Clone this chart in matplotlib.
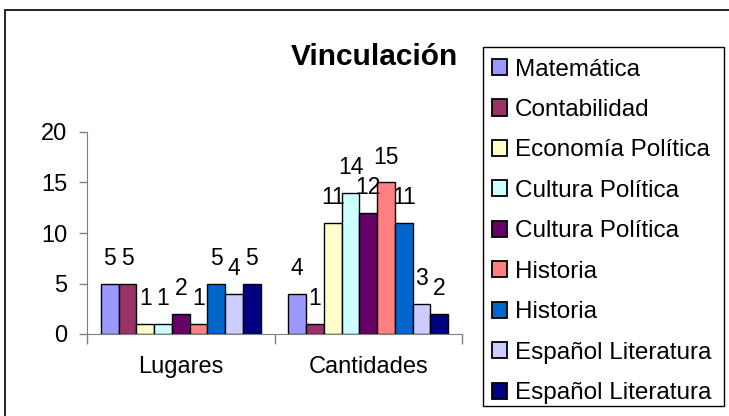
import matplotlib
matplotlib.use("Agg")
import matplotlib.pyplot as plt
import numpy as np
from matplotlib.patches import Rectangle, Patch

plt.rcParams['font.family'] = ['Liberation Sans', 'DejaVu Sans']

categories = ["Lugares", "Cantidades"]
series_names = ["Matemática", "Contabilidad", "Economía Política", "Cultura Política",
                "Cultura Política", "Historia", "Historia", "Español Literatura",
                "Español Literatura"]
values = [
    [5, 4],
    [5, 1],
    [1, 11],
    [1, 14],
    [2, 12],
    [1, 15],
    [5, 11],
    [4, 3],
    [5, 2],
]
colors = ["#9999FF", "#993366", "#FFFFCC", "#CCFFFF", "#660066", "#FF8080",
          "#0066CC", "#CCCCFF", "#000080"]
yticks = [0, 5, 10, 15, 20]

W, H = 729, 416
fig = plt.figure(figsize=(W / 100, H / 100), dpi=100)
fig.patch.set_facecolor("white")

# outer chart border
fig.patches.append(Rectangle((5 / W, -0.1), 1.2, (H - 10) / H + 0.1, transform=fig.transFigure,
                             fill=False, edgecolor="black", linewidth=1.2))
# legend frame
fig.patches.append(Rectangle((483 / W, 1 - 406 / H), (724 - 483) / W, (406 - 47) / H,
                             transform=fig.transFigure, fill=False,
                             edgecolor="black", linewidth=1.0))

ax = fig.add_axes([87 / W, (H - 334) / H, (462 - 87) / W, (334 - 132) / H])
n = len(series_names)
group_w = 0.853
bw = group_w / n
x = np.arange(len(categories)) + 0.5
for i, (name, vals, c) in enumerate(zip(series_names, values, colors)):
    pos = x - group_w / 2 + bw * (i + 0.5)
    ax.bar(pos, vals, width=bw, color=c, edgecolor="black", linewidth=1.0, label=name)
    for xp, v in zip(pos, vals):
        ax.annotate(str(v), (xp, v), xytext=(0, 13.5), textcoords="offset points",
                    ha="center", va="baseline", fontsize=16.5)

ax.set_xlim(0, 2)
ax.set_ylim(0, 20)
ax.set_yticks(yticks)
ax.tick_params(axis="y", labelsize=17, length=6, width=1, pad=8)
ax.set_xticks([0, 1, 2])
ax.set_xticklabels(["", "", ""])
ax.set_xticks(x, minor=True)
ax.set_xticklabels(categories, minor=True)
ax.tick_params(axis="x", which="major", length=7, width=1, direction="out")
ax.tick_params(axis="x", which="minor", length=0, labelsize=17, pad=16)
for s in ["top", "right"]:
    ax.spines[s].set_visible(False)
ax.spines["left"].set_color("#808080")
ax.spines["bottom"].set_color("#808080")
ax.tick_params(colors="#808080", labelcolor="black", which="both")
ax.set_facecolor("white")

fig.text(374 / W, 1 - 57 / H, "Vinculación", ha="center", va="center",
         fontsize=21.5, fontweight="bold")

handles = [Patch(facecolor=c, edgecolor="black", linewidth=1.3) for c in colors]
leg = fig.legend(handles, series_names, loc="upper left",
                 bbox_to_anchor=(483 / W, 1 - 50 / H), fontsize=17.5,
                 frameon=False,
                 handlelength=0.65, handleheight=0.65, handletextpad=0.3,
                 labelspacing=0.76, borderpad=0.35, borderaxespad=0)

fig.savefig("out.png", dpi=100)
